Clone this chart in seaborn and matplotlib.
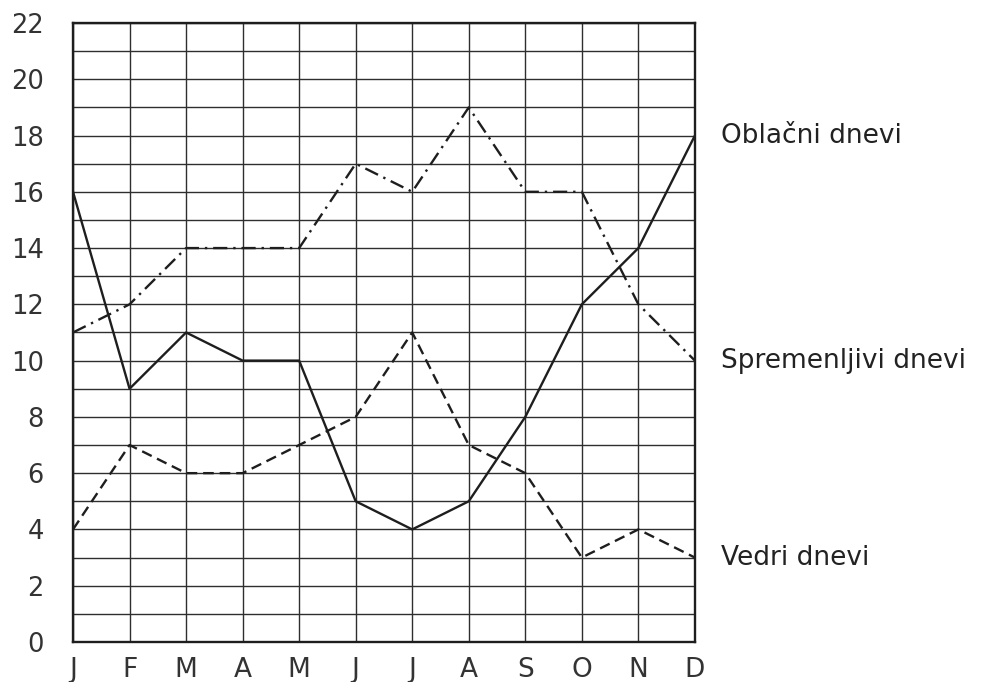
import matplotlib
matplotlib.use("Agg")
import matplotlib.pyplot as plt
import pandas as pd
import seaborn as sns

# data (days per month)
months = ["J", "F", "M", "A", "M", "J", "J", "A", "S", "O", "N", "D"]
oblacni = [16, 9, 11, 10, 10, 5, 4, 5, 8, 12, 14, 18]
spremenljivi = [11, 12, 14, 14, 14, 17, 16, 19, 16, 16, 12, 10]
vedri = [4, 7, 6, 6, 7, 8, 11, 7, 6, 3, 4, 3]
labels = ["Oblačni dnevi", "Spremenljivi dnevi", "Vedri dnevi"]
y_ticks = list(range(0, 23, 2))

sns.set_style("white")
plt.rcParams["font.family"] = ["DejaVu Sans"]

df = pd.DataFrame({"x": range(len(months)),
                   "oblacni": oblacni,
                   "spremenljivi": spremenljivi,
                   "vedri": vedri})

fig = plt.figure(figsize=(9.84, 6.82), dpi=100)
ax = fig.add_axes([0.0742, 0.0587, 0.632, 0.9076])

styles = {
    "oblacni": "-",
    "spremenljivi": (0, (6, 2.5, 1, 2.5)),
    "vedri": (0, (4.5, 2.5)),
}
for col, ls in styles.items():
    sns.lineplot(data=df, x="x", y=col, ax=ax, color="#1e1e1e",
                 linewidth=1.7, linestyle=ls, zorder=3)

ax.set_xlim(0, len(months) - 1)
ax.set_ylim(0, 22)
ax.set_xticks(range(len(months)))
ax.set_xticklabels(months)
ax.set_yticks(y_ticks)
ax.set_yticks(range(0, 23), minor=True)
ax.grid(True, which="both", color="#2e2e2e", linewidth=1.0)
ax.set_xlabel("")
ax.set_ylabel("")
for s in ax.spines.values():
    s.set_color("#1e1e1e")
    s.set_linewidth(1.7)
ax.tick_params(axis="y", which="major", labelsize=18.5, pad=21, length=0,
               colors="#333333")
ax.tick_params(axis="x", labelsize=19, pad=11, length=0, colors="#333333")
ax.tick_params(which="minor", length=0)

# series names at the right-hand end of each line
ends = [oblacni[-1], spremenljivi[-1], vedri[-1]]
for name, yv in zip(labels, ends):
    ax.annotate(name, xy=(len(months) - 1, yv), xytext=(26, 0),
                textcoords="offset pixels", va="center", ha="left",
                fontsize=19, color="#222222", annotation_clip=False)

fig.savefig("out.png", dpi=100, facecolor="white")
